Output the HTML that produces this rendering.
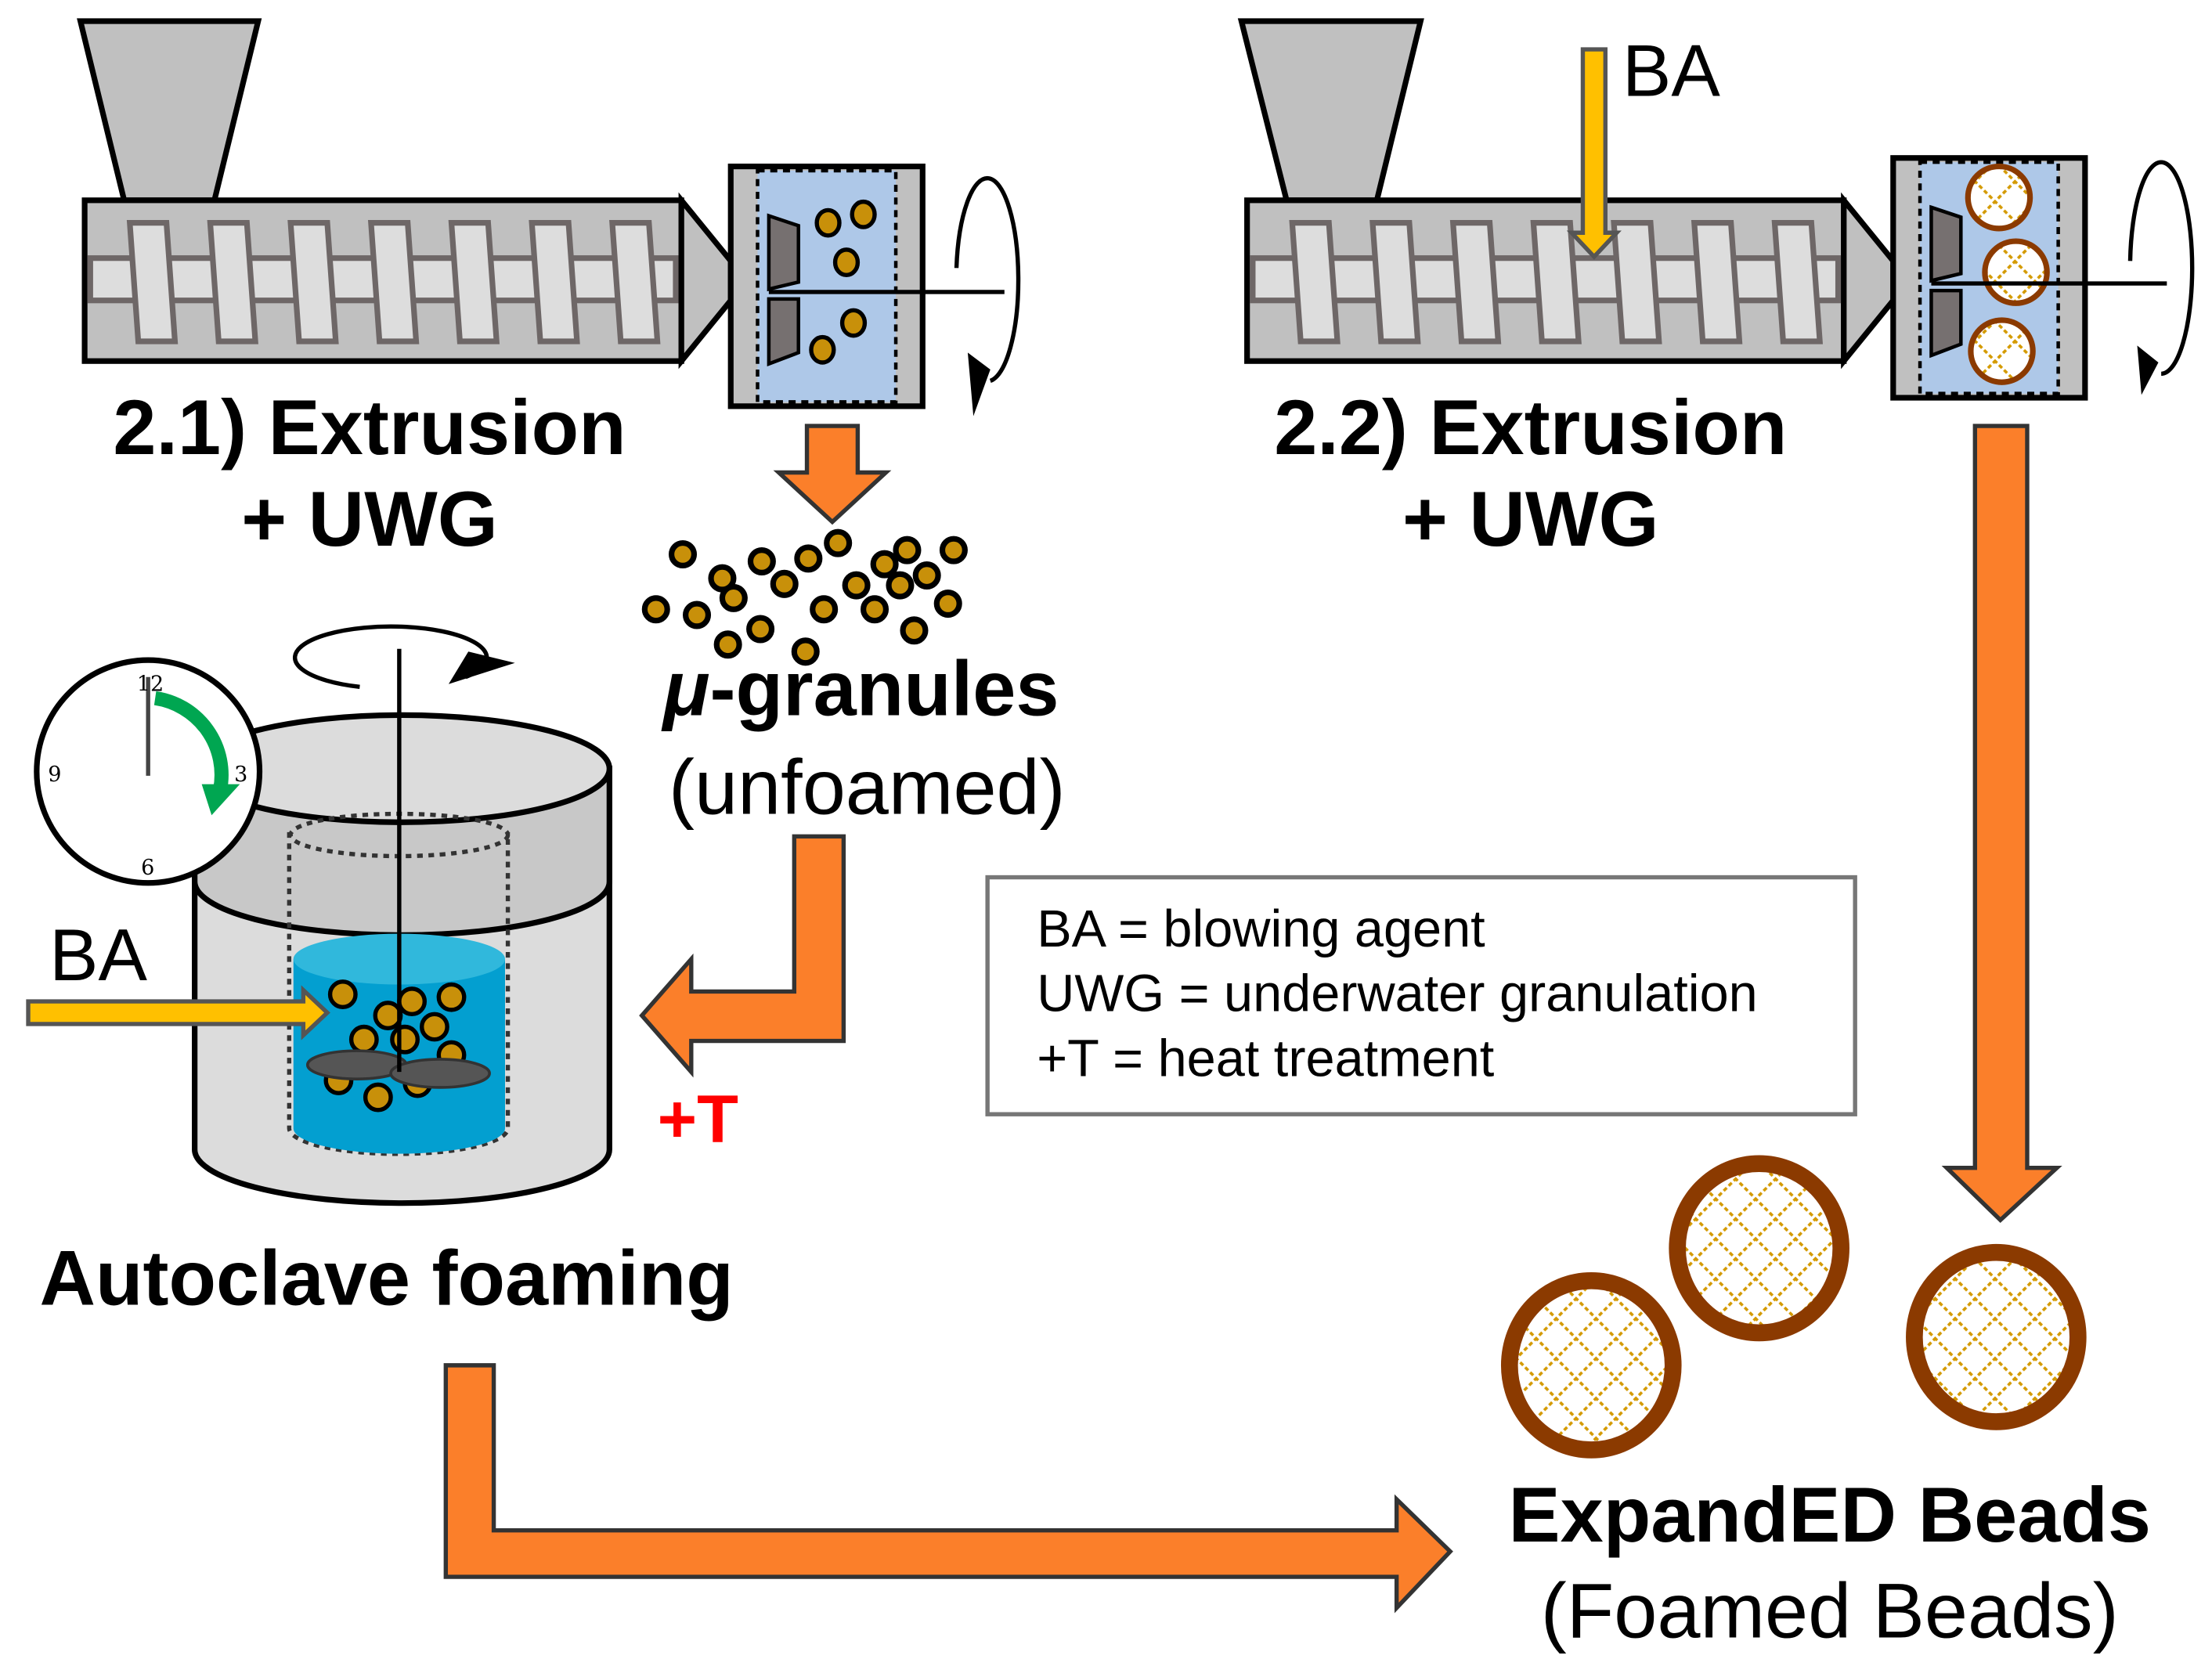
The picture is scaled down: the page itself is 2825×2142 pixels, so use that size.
<!DOCTYPE html>
<html><head><meta charset="utf-8"><style>html,body{margin:0;padding:0;background:#fff}svg{display:block}</style></head><body>
<svg width="2825" height="2142" viewBox="0 0 1568 1189" preserveAspectRatio="none" xmlns="http://www.w3.org/2000/svg" font-family="'Liberation Sans', sans-serif">
<defs>
<pattern id="hx" width="20" height="20" patternUnits="userSpaceOnUse" patternTransform="rotate(45)">
<rect width="20" height="20" fill="#fff"/>
<path d="M0 0H20M0 0V20" stroke="#d49a00" stroke-width="4" stroke-dasharray="3 2"/>
</pattern>
<g id="flights">
<g fill="#ddd" stroke="#6e6767" stroke-width="4">
<polygon points="92,158 118,158 124,242 98,242"/>
<polygon points="149,158 175,158 181,242 155,242"/>
<polygon points="206,158 232,158 238,242 212,242"/>
<polygon points="263,158 289,158 295,242 269,242"/>
<polygon points="320,158 346,158 352,242 326,242"/>
<polygon points="377,158 403,158 409,242 383,242"/>
<polygon points="434,158 460,158 466,242 440,242"/>
</g>
</g>
</defs>
<!-- Left extruder -->
<polygon points="57,15 183,15 152,142 88,142" fill="#c0c0c0" stroke="#000" stroke-width="4"/>
<rect x="60" y="142" width="423" height="114" fill="#c0c0c0" stroke="#000" stroke-width="4"/>
<rect x="64" y="183" width="415" height="30" fill="#ddd" stroke="#6e6767" stroke-width="4"/>
<use href="#flights"/>
<polygon points="483,142 518,185 518,213 483,256" fill="#c0c0c0" stroke="#000" stroke-width="4"/>
<rect x="518" y="118" width="136" height="170" fill="#c0c0c0" stroke="#000" stroke-width="4"/>
<rect x="537" y="121" width="98" height="164" fill="#aec8e8" stroke="#000" stroke-width="2.5" stroke-dasharray="5 4"/>
<polygon points="545,153 566,160 566,200 545,205" fill="#767070" stroke="#000" stroke-width="2.5"/>
<polygon points="545,258 566,250 566,212 545,212" fill="#767070" stroke="#000" stroke-width="2.5"/>
<line x1="545" y1="207" x2="712" y2="207" stroke="#000" stroke-width="3"/>
<g fill="#c8900a" stroke="#000" stroke-width="3">
<ellipse cx="587" cy="158" rx="8" ry="9"/><ellipse cx="612" cy="152" rx="8" ry="9"/><ellipse cx="600" cy="186" rx="8" ry="9"/><ellipse cx="605" cy="229" rx="8" ry="9"/><ellipse cx="583" cy="248" rx="8" ry="9"/>
</g>
<path d="M678 190 A22 72 0 1 1 702 270" fill="none" stroke="#000" stroke-width="3"/>
<polygon points="686,250 702,262 690,295" fill="#000"/>
<text x="262" y="322" font-size="55" font-weight="bold" text-anchor="middle">2.1) Extrusion</text>
<text x="262" y="387" font-size="55" font-weight="bold" text-anchor="middle">+ UWG</text>
<!-- orange down small -->
<polygon points="572,302 608,302 608,335 628,335 590,370 552,335 572,335" fill="#fb7f2a" stroke="#333" stroke-width="3"/>
<g fill="#c8900a" stroke="#000" stroke-width="4">
<circle cx="484" cy="393" r="8"/><circle cx="512" cy="410" r="8"/><circle cx="520" cy="424" r="8"/><circle cx="494" cy="436" r="8"/><circle cx="465" cy="432" r="8"/><circle cx="540" cy="398" r="8"/><circle cx="556" cy="414" r="8"/><circle cx="573" cy="396" r="8"/><circle cx="594" cy="385" r="8"/><circle cx="607" cy="415" r="8"/><circle cx="627" cy="400" r="8"/><circle cx="643" cy="390" r="8"/><circle cx="657" cy="408" r="8"/><circle cx="676" cy="390" r="8"/><circle cx="638" cy="415" r="8"/><circle cx="620" cy="432" r="8"/><circle cx="584" cy="432" r="8"/><circle cx="648" cy="447" r="8"/><circle cx="672" cy="428" r="8"/><circle cx="539" cy="446" r="8"/><circle cx="516" cy="457" r="8"/><circle cx="571" cy="462" r="8"/>
</g>
<text x="470" y="507" font-size="55" font-weight="bold"><tspan font-style="italic">μ</tspan>-granules</text>
<text x="474" y="577" font-size="55">(unfoamed)</text>
<!-- L arrow -->
<polygon points="563,593 598,593 598,738 490,738 490,760 455,720 490,680 490,703 563,703" fill="#fb7f2a" stroke="#333" stroke-width="3"/>
<text x="466" y="810" font-size="48" font-weight="bold" fill="#ff0000">+T</text>
<!-- Autoclave -->
<path d="M138 545 V815 A147 38 0 0 0 432 815 V545 Z" fill="#dcdcdc" stroke="#000" stroke-width="4"/>
<path d="M138 545 V625 A147 38 0 0 0 432 625 V545 Z" fill="#c8c8c8" stroke="#000" stroke-width="4"/>
<ellipse cx="285" cy="545" rx="147" ry="38" fill="#dcdcdc" stroke="#000" stroke-width="4"/>
<path d="M205 590 V800 A77 18 0 0 0 360 800 V590" fill="none" stroke="#333" stroke-width="3" stroke-dasharray="4 4"/>
<ellipse cx="283" cy="592" rx="77" ry="15" fill="none" stroke="#333" stroke-width="3" stroke-dasharray="4 4"/>
<path d="M208 680 V800 A75 18 0 0 0 358 800 V680 Z" fill="#039fd0"/>
<ellipse cx="283" cy="680" rx="75" ry="18" fill="#30b8dc"/>
<g fill="#c8900a" stroke="#000" stroke-width="3">
<circle cx="243" cy="705" r="9"/><circle cx="275" cy="720" r="9"/><circle cx="292" cy="710" r="9"/><circle cx="320" cy="707" r="9"/><circle cx="308" cy="728" r="9"/><circle cx="258" cy="737" r="9"/><circle cx="287" cy="737" r="9"/><circle cx="320" cy="748" r="9"/><circle cx="240" cy="766" r="9"/><circle cx="268" cy="778" r="9"/><circle cx="296" cy="768" r="9"/>
</g>
<ellipse cx="253" cy="755" rx="35" ry="10" fill="#555" stroke="#333" stroke-width="2"/>
<ellipse cx="312" cy="761" rx="35" ry="10" fill="#555" stroke="#333" stroke-width="2"/>
<line x1="283" y1="460" x2="283" y2="760" stroke="#000" stroke-width="3"/>
<path d="M255 487 A68 22 0 1 1 330 480" fill="none" stroke="#000" stroke-width="3"/>
<polygon points="318,485 365,470 332,462" fill="#000"/>
<!-- clock -->
<circle cx="105" cy="547" r="79" fill="#fff" stroke="#000" stroke-width="4"/>
<path d="M110 495 A55 55 0 0 1 156 560" fill="none" stroke="#00a651" stroke-width="10"/>
<polygon points="143,556 170,556 150,578" fill="#00a651"/>
<line x1="105" y1="480" x2="105" y2="550" stroke="#444" stroke-width="3"/>
<g font-size="15" font-family="'DejaVu Serif', serif">
<text x="97" y="490">12</text><text x="166" y="554">3</text><text x="100" y="620">6</text><text x="34" y="554">9</text>
</g>
<text x="35" y="695" font-size="52">BA</text>
<polygon points="20,710 215,710 215,702 232,718 215,734 215,726 20,726" fill="#ffc000" stroke="#555" stroke-width="3"/>
<text x="28" y="925" font-size="55" font-weight="bold">Autoclave foaming</text>
<!-- bottom arrow -->
<polygon points="316,968 350,968 350,1085 990,1085 990,1063 1028,1100 990,1140 990,1118 316,1118" fill="#fb7f2a" stroke="#333" stroke-width="3"/>
<!-- legend -->
<rect x="700" y="622" width="615" height="168" fill="#fff" stroke="#777" stroke-width="3"/>
<g font-size="37"><text x="735" y="671">BA = blowing agent</text><text x="735" y="717">UWG = underwater granulation</text><text x="735" y="763">+T = heat treatment</text></g>
<!-- Right extruder -->
<polygon points="880,15 1007,15 976,142 912,142" fill="#c0c0c0" stroke="#000" stroke-width="4"/>
<rect x="884" y="142" width="423" height="114" fill="#c0c0c0" stroke="#000" stroke-width="4"/>
<rect x="888" y="183" width="415" height="30" fill="#ddd" stroke="#6e6767" stroke-width="4"/>
<use href="#flights" transform="translate(824,0)"/>
<polygon points="1307,142 1342,185 1342,213 1307,256" fill="#c0c0c0" stroke="#000" stroke-width="4"/>
<rect x="1342" y="112" width="136" height="170" fill="#c0c0c0" stroke="#000" stroke-width="4"/>
<rect x="1361" y="115" width="98" height="164" fill="#aec8e8" stroke="#000" stroke-width="2.5" stroke-dasharray="5 4"/>
<polygon points="1369,147 1390,154 1390,194 1369,199" fill="#767070" stroke="#000" stroke-width="2.5"/>
<polygon points="1369,252 1390,244 1390,206 1369,206" fill="#767070" stroke="#000" stroke-width="2.5"/>
<g fill="url(#hx)" stroke="#8b3a00" stroke-width="4">
<circle cx="1417" cy="140" r="22"/><circle cx="1429" cy="193" r="22"/><circle cx="1419" cy="249" r="22"/>
</g>
<line x1="1369" y1="201" x2="1536" y2="201" stroke="#000" stroke-width="3"/>
<path d="M1510 185 A22 75 0 1 1 1532 265" fill="none" stroke="#000" stroke-width="3"/>
<polygon points="1515,245 1530,257 1518,280" fill="#000"/>
<polygon points="1122,35 1138,35 1138,165 1146,165 1130,182 1114,165 1122,165" fill="#ffc000" stroke="#555" stroke-width="3"/>
<text x="1150" y="68" font-size="52">BA</text>
<text x="1085" y="322" font-size="55" font-weight="bold" text-anchor="middle">2.2) Extrusion</text>
<text x="1085" y="387" font-size="55" font-weight="bold" text-anchor="middle">+ UWG</text>
<polygon points="1400,302 1437,302 1437,828 1458,828 1418,865 1380,828 1400,828" fill="#fb7f2a" stroke="#333" stroke-width="3"/>
<g fill="url(#hx)" stroke="#8b3a00" stroke-width="12">
<ellipse cx="1247" cy="885" rx="58" ry="60"/><ellipse cx="1128" cy="968" rx="58" ry="60"/><ellipse cx="1415" cy="948" rx="58" ry="60"/>
</g>
<text x="1297" y="1093" font-size="55" font-weight="bold" text-anchor="middle">ExpandED Beads</text>
<text x="1297" y="1161" font-size="55" text-anchor="middle">(Foamed Beads)</text>
</svg>
</body></html>
